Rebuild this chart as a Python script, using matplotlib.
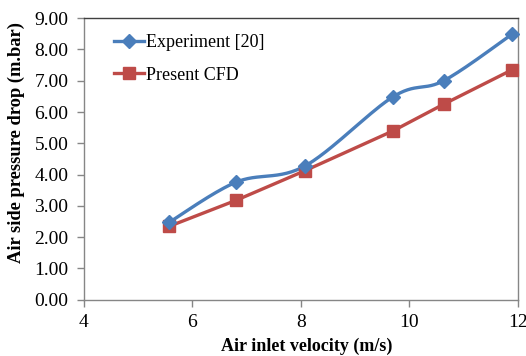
import numpy as np
import matplotlib
matplotlib.use('Agg')
import matplotlib.pyplot as plt
from matplotlib.lines import Line2D

velocity = [5.58, 6.81, 8.07, 9.70, 10.63, 11.89]
exp_dp = [2.48, 3.76, 4.27, 6.49, 7.00, 8.49]
cfd_dp = [2.35, 3.18, 4.12, 5.40, 6.25, 7.35]

x_ticks = [4, 6, 8, 10, 12]
y_ticks = np.arange(0, 9.01, 1.0)

blue = '#4A7EBB'
red = '#BE4B48'

plt.rcParams['font.family'] = ['Liberation Serif', 'DejaVu Serif']

fig = plt.figure(figsize=(5.26, 3.56), dpi=100)
ax = fig.add_axes([0.159, 0.158, 0.826, 0.791])
ax.set_xlim(4, 12)
ax.set_ylim(0, 9)


def excel_smooth(ax, xs, ys, n=30):
    # Excel-style smoothed line: cubic Bezier with control points from neighbours (in pixel space)
    pts = ax.transData.transform(np.column_stack([xs, ys]))
    out = [pts[0]]
    m = len(pts)
    for i in range(m - 1):
        p0 = pts[i - 1] if i > 0 else pts[i]
        p1 = pts[i]
        p2 = pts[i + 1]
        p3 = pts[i + 2] if i + 2 < m else pts[i + 1]
        c1 = p1 + (p2 - p0) / 6.0
        c2 = p2 - (p3 - p1) / 6.0
        t = np.linspace(0, 1, n)[1:, None]
        seg = (1 - t) ** 3 * p1 + 3 * (1 - t) ** 2 * t * c1 + 3 * (1 - t) * t ** 2 * c2 + t ** 3 * p2
        out.extend(seg)
    out = np.array(out)
    return ax.transData.inverted().transform(out)


curve = excel_smooth(ax, velocity, exp_dp)
ax.plot(curve[:, 0], curve[:, 1], '-', color=blue, lw=2.4, zorder=3, solid_capstyle='round')
ax.plot(velocity, exp_dp, 'D', color=blue, ms=7, mec=blue, zorder=4, clip_on=False)
ax.plot(velocity, cfd_dp, '-s', color=red, lw=2.4, ms=9, mec=red, zorder=3, clip_on=False)

ax.set_xticks(x_ticks)
ax.set_yticks(y_ticks)
ax.set_yticklabels([f'{v:.2f}' for v in y_ticks])
ax.tick_params(labelsize=14, colors='#868686', length=5, width=1)
for lab in ax.get_xticklabels() + ax.get_yticklabels():
    lab.set_color('black')
ax.tick_params(axis='x', pad=5)
ax.tick_params(axis='y', pad=6)

for s in ['left', 'bottom']:
    ax.spines[s].set_color('#868686')
    ax.spines[s].set_linewidth(1.0)
ax.spines['top'].set_color('#404040')
ax.spines['right'].set_color('#868686')
ax.spines['top'].set_linewidth(1.0)
ax.spines['right'].set_linewidth(1.0)

ax.set_xlabel('Air inlet velocity (m/s)', fontsize=13, fontweight='bold')
ax.set_ylabel('Air side pressure drop (m.bar)', fontsize=13.3, fontweight='bold')
ax.xaxis.set_label_coords(0.514, -0.133)
ax.yaxis.set_label_coords(-0.135, 0.557)

handles = [Line2D([], [], color=blue, lw=2.4, marker='D', ms=7),
           Line2D([], [], color=red, lw=2.4, marker='s', ms=9)]
ax.legend(handles, ['Experiment [20]', 'Present CFD'], loc='upper left',
          bbox_to_anchor=(0.032, 1.0), frameon=False, fontsize=13,
          handlelength=1.7, handletextpad=0.1, labelspacing=0.85)

fig.savefig('out.png', dpi=100)
